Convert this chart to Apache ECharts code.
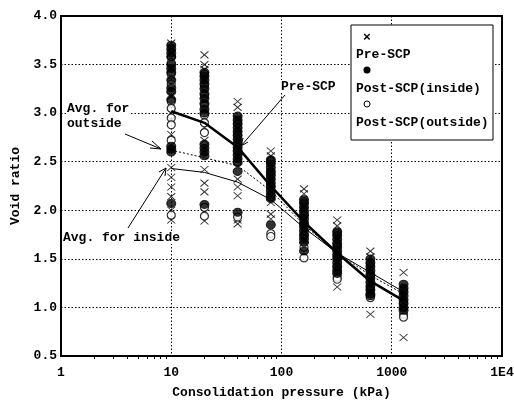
<!DOCTYPE html>
<html><head><meta charset="utf-8">
<script src="https://cdn.jsdelivr.net/npm/echarts@6/dist/echarts.min.js"></script>
<style>html,body{margin:0;padding:0;background:#fff}#c{width:514px;height:401px}</style>
</head><body><div id="c"></div>
<script>
// Pressure steps (kPa)
const pressures = [10, 20, 40, 80, 160, 320, 640, 1280];
// Average curves
const preAvg     = [3.02, 2.90, 2.65, 2.25, 1.88, 1.56, 1.27, 1.07];
const outsideAvg = [2.62, 2.54, 2.46, 2.20, 1.85, 1.56, 1.33, 1.14];
const insideAvg  = [2.43, 2.39, 2.29, 2.11, 1.82, 1.56, 1.36, 1.16];
// Measured void ratios per pressure step
const preSCP = [
  [3.72,3.68,3.62,3.55,3.47,3.38,3.27,3.18,3.08,3.00,2.93,2.78,2.62,2.44,2.34,2.24,2.14,2.00,1.90],
  [3.60,3.50,3.45,3.35,3.20,3.05,2.95,2.85,2.72,2.42,2.28,2.19,1.98,1.89],
  [3.12,3.06,2.95,2.85,2.70,2.55,2.32,2.24,2.15,1.90,1.86],
  [2.61,2.56,2.45,2.30,2.08,1.96,1.91],
  [2.22,2.17,2.05,1.90,1.70,1.64],
  [1.90,1.84,1.72,1.55,1.21],
  [1.58,1.52,1.40,1.15,0.93],
  [1.36,1.10,0.95,0.69]
];
const postInside = [
  [3.70,3.66,3.62,3.58,3.50,3.46,3.42,3.34,3.26,3.22,3.14,2.66,2.63,2.60,2.07],
  [3.42,3.38,3.34,3.30,3.25,3.20,3.15,3.10,3.04,3.00,2.68,2.64,2.60,2.56,2.06],
  [2.97,2.93,2.89,2.85,2.81,2.77,2.73,2.69,2.65,2.61,2.57,2.53,2.49,2.40,1.98],
  [2.52,2.48,2.44,2.40,2.36,2.32,2.28,2.24,2.20,2.16,2.12,1.85],
  [2.11,2.07,2.03,1.99,1.95,1.91,1.87,1.83,1.79,1.75,1.71,1.67,1.58],
  [1.78,1.74,1.70,1.66,1.62,1.58,1.54,1.50,1.46,1.42,1.38,1.35],
  [1.50,1.46,1.42,1.38,1.34,1.30,1.26,1.22,1.18,1.14,1.12],
  [1.24,1.20,1.16,1.12,1.08,1.04,1.00,0.97]
];
const postOutside = [
  [3.58,3.52,3.40,3.30,3.12,3.05,2.95,2.88,2.72,1.95],
  [3.40,3.28,3.18,3.08,2.98,2.90,2.80,2.03,1.94],
  [2.90,2.78,2.62,2.50,1.93],
  [2.50,2.38,2.25,2.14,1.76,1.73],
  [2.09,1.96,1.85,1.74,1.62,1.51],
  [1.76,1.64,1.52,1.42,1.31,1.29],
  [1.45,1.32,1.20,1.10],
  [1.18,1.05,0.93,0.90]
];
const xTickLabels = {1:'1', 10:'10', 100:'100', 1000:'1000', 10000:'1E4'};

function pts(groups){ const o=[]; groups.forEach((g,i)=>g.forEach(v=>o.push([pressures[i],v]))); return o; }
function line(vals){ return vals.map((v,i)=>[pressures[i],v]); }

const FONT = '"Liberation Mono", monospace';
const chart = echarts.init(document.getElementById('c'));
const xPath = 'path://M0,0L10,10M10,0L0,10';

chart.setOption({
  animation:false,
  backgroundColor:'#fff',
  grid:{left:61,right:12,top:16,bottom:45,show:true,borderColor:'#000',borderWidth:2,
    containLabel:false,outerBoundsMode:'none'},
  xAxis:{type:'log',logBase:10,min:1,max:10000,
    axisLine:{lineStyle:{color:'#000',width:2}},
    axisTick:{show:false},
    minorTick:{show:true,splitNumber:9,length:3,lineStyle:{color:'#000'}},
    axisLabel:{color:'#000',fontFamily:FONT,fontWeight:'bold',fontSize:13,margin:10,
      formatter:v=>xTickLabels[Math.round(v)]||''},
    splitLine:{show:true,lineStyle:{color:'#000',type:[1.5,2],width:1}},
    name:'Consolidation pressure (kPa)',nameLocation:'middle',nameGap:30,
    nameTextStyle:{color:'#000',fontFamily:FONT,fontWeight:'bold',fontSize:13}
  },
  yAxis:{type:'value',min:0.5,max:4.0,interval:0.5,
    axisLine:{show:true,lineStyle:{color:'#000',width:2}},
    axisTick:{show:false},
    axisLabel:{color:'#000',fontFamily:FONT,fontWeight:'bold',fontSize:13,margin:4,
      formatter:v=>v.toFixed(1)},
    splitLine:{show:true,lineStyle:{color:'#000',type:[1.5,2],width:1}},
    name:'Void ratio',nameLocation:'middle',nameGap:38,
    nameTextStyle:{color:'#000',fontFamily:FONT,fontWeight:'bold',fontSize:13}
  },
  series:[
    {type:'scatter',name:'Pre-SCP',data:pts(preSCP),symbol:xPath,symbolSize:[8,7],
      itemStyle:{color:'none',borderColor:'#000',borderWidth:1},z:3},
    {type:'scatter',name:'Post-SCP(outside)',data:pts(postOutside),symbol:'circle',symbolSize:[8,8],
      itemStyle:{color:'#fff',borderColor:'#000',borderWidth:1.2},z:4},
    {type:'scatter',name:'Post-SCP(inside)',data:pts(postInside),symbol:'circle',symbolSize:[9,8],
      itemStyle:{color:'#000',borderColor:'#000',borderWidth:1},z:5},
    {type:'line',data:line(preAvg),symbol:'none',lineStyle:{color:'#000',width:2.5},z:6},
    {type:'line',data:line(outsideAvg),symbol:'none',lineStyle:{color:'#000',width:1,type:[2,2]},z:6},
    {type:'line',data:line(insideAvg),symbol:'none',lineStyle:{color:'#000',width:1},z:6}
  ],
  graphic:[
    {type:'rect',shape:{x:351,y:25,width:142,height:115},style:{fill:'#fff',stroke:'#000',lineWidth:1},z:10},
    {type:'text',x:363,y:31,style:{text:'×',fill:'#000',font:'bold 13px '+FONT},z:11},
    {type:'text',x:356,y:48,style:{text:'Pre-SCP',fill:'#000',font:'bold 13px '+FONT},z:11},
    {type:'circle',shape:{cx:367,cy:70,r:3.5},style:{fill:'#000'},z:11},
    {type:'text',x:356,y:82,style:{text:'Post-SCP(inside)',fill:'#000',font:'bold 13px '+FONT},z:11},
    {type:'circle',shape:{cx:367,cy:104,r:3},style:{fill:'#fff',stroke:'#000',lineWidth:1},z:11},
    {type:'text',x:356,y:116,style:{text:'Post-SCP(outside)',fill:'#000',font:'bold 13px '+FONT},z:11},
    {type:'text',x:281,y:80,style:{text:'Pre-SCP',fill:'#000',font:'bold 13px '+FONT,backgroundColor:'#fff'},z:11},
    {type:'line',shape:{x1:285,y1:95,x2:241,y2:146},style:{stroke:'#000',lineWidth:1},z:11},
    {type:'polyline',shape:{points:[[243,138],[241,146],[248,142]]},style:{stroke:'#000',lineWidth:1,fill:'none'},z:11},
    {type:'text',x:67,y:101,style:{text:'Avg. for\noutside',fill:'#000',font:'bold 13px '+FONT,lineHeight:15,backgroundColor:'#fff'},z:11},
    {type:'line',shape:{x1:125,y1:134,x2:161,y2:149},style:{stroke:'#000',lineWidth:1},z:11},
    {type:'polyline',shape:{points:[[152,141],[161,149],[150,148]]},style:{stroke:'#000',lineWidth:1,fill:'none'},z:11},
    {type:'text',x:63,y:231,style:{text:'Avg. for inside',fill:'#000',font:'bold 13px '+FONT,backgroundColor:'#fff'},z:11},
    {type:'line',shape:{x1:128,y1:228,x2:166,y2:168},style:{stroke:'#000',lineWidth:1},z:11},
    {type:'polyline',shape:{points:[[159,172],[166,168],[165,176]]},style:{stroke:'#000',lineWidth:1,fill:'none'},z:11}
  ]
});
</script></body></html>
